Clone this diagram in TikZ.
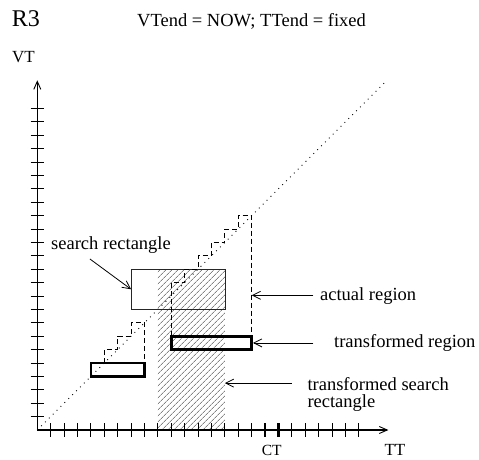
\documentclass[tikz,border=0pt]{standalone}
\usepackage{fontspec}
\setmainfont{Liberation Serif}
\usetikzlibrary{arrows.meta,patterns.meta}

\begin{document}
\begin{tikzpicture}[x=13.4pt,y=13.4pt,
  axisline/.style={line width=1.1pt,-{Straight Barb[length=8pt,width=7pt,line width=0.9pt]}},
  tickmark/.style={line width=0.9pt},
  cttick/.style={line width=2.4pt},
  regionbox/.style={line width=2.6pt},
  searchbox/.style={line width=0.8pt,black!85},
  stairs/.style={line width=0.9pt,dash pattern=on 5pt off 3pt},
  diag/.style={line width=0.9pt,dash pattern=on 0.9pt off 4.6pt},
  lbl/.style={inner sep=0pt,anchor=base west,font=\fontsize{18.5}{17}\selectfont},
  axlbl/.style={inner sep=0pt,anchor=base west,font=\fontsize{17}{17}\selectfont},
  pointer/.style={line width=0.8pt,-{Straight Barb[length=8pt,width=8pt,line width=0.8pt]}},
]
\useasboundingbox (-2.7836,-2.1642) rectangle (32.9627,32.0896);

% hatched transformed search rectangle
\fill[pattern={Lines[angle=45,distance=4pt,line width=0.5pt]},pattern color=black!75]
  (9,0) rectangle (14,12);

% axes with ticks
\coordinate (O) at (0,0);
\coordinate (xend) at (26.2,0);
\coordinate (yend) at (0,26.1);
\coordinate (dend) at (26,26);
\draw[axisline] (O) -- (xend);
\draw[axisline] (O) -- (yend);
\foreach \i in {1,...,24} {
  \draw[tickmark] (\i,-0.5) -- (\i,0.5);
  \draw[tickmark] (-0.5,\i) -- (0.5,\i);
}
\draw[cttick] (17,-0.5) -- (17,0.5);
\draw[cttick] (18,-0.5) -- (18,0.5);

% the line VT = TT
\draw[diag] (O) -- (dend);

% search rectangle
\draw[searchbox] (7,9) rectangle (14,12);

% actual regions (staircases)
\draw[stairs] (10,7) -- (10,11) -- (11,11) -- (11,12) -- (12,12) -- (12,13) -- (13,13)
  -- (13,14) -- (14,14) -- (14,15) -- (15,15) -- (15,16) -- (16,16) -- (16,7);
\draw[stairs] (5,5) -- (5,6) -- (6,6) -- (6,7) -- (7,7) -- (7,8) -- (8,8) -- (8,5);

% transformed regions
\draw[regionbox] (10,6) rectangle (16,7);
\draw[regionbox] (4,4) rectangle (8,5);

% titles and axis labels
\node[inner sep=0pt,anchor=base west,font=\fontsize{24}{24}\selectfont] (rname) at (-1.91,30.1) {R3};
\node[lbl] (title) at (7.44,30.1) {VTend = NOW; TTend = fixed};
\node[axlbl] (vt) at (-1.89,27.39) {VT};
\node[axlbl] (tt) at (25.9,-1.87) {TT};
\node[inner sep=0pt,anchor=base,font=\fontsize{15.5}{15.5}\selectfont] (ct) at (17.5,-1.87) {CT};

% labels with pointers
\node[lbl] (srl) at (1.02,13.5) {search rectangle};
\coordinate (srfrom) at (3.93,12.76);
\coordinate (srtip) at (7,10.5);
\draw[pointer] (srfrom) -- (srtip);

\node[lbl] (arl) at (21.09,9.70) {actual region};
\coordinate (arfrom) at (20.6,10.05);
\coordinate (artip) at (16,10.05);
\draw[pointer] (arfrom) -- (artip);

\node[lbl] (trl) at (22.14,6.12) {transformed region};
\coordinate (trfrom) at (20.6,6.5);
\coordinate (trtip) at (16.1,6.5);
\draw[pointer] (trfrom) -- (trtip);

\node[lbl,anchor=north west,align=left] (tsl) at (20.15,3.95) {transformed search\\rectangle};
\coordinate (tsfrom) at (19,3.5);
\coordinate (tstip) at (14,3.5);
\draw[pointer] (tsfrom) -- (tstip);
\end{tikzpicture}
\end{document}
